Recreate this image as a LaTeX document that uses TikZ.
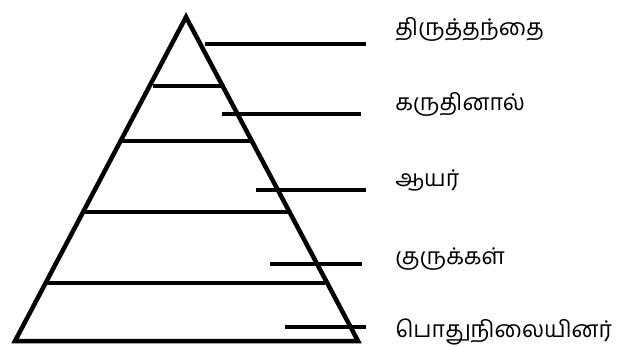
\documentclass[tikz,border=0pt]{standalone}
\usepackage{fontspec}
\newfontfamily\tamilfont[Script=Tamil]{Hind Madurai}
\usetikzlibrary{positioning}

\begin{document}
\begin{tikzpicture}[x=1pt, y=-1pt, line width=4.5pt,
    rank/.style={anchor=base west, inner sep=0pt, font=\tamilfont\fontsize{23}{27}\selectfont}]
  \useasboundingbox (0,0) rectangle (617,346);
  % pyramid
  \coordinate (apex) at (186,17);
  \coordinate (bl) at (15,341);
  \coordinate (br) at (358,341);
  \draw (apex) -- (bl) -- (br) -- cycle;
  % tiers
  \draw (153,86) -- (222,86);
  \draw (121,141) -- (250,141);
  \draw (85,212) -- (289,212);
  \draw (47,283) -- (325,283);
  % labels
  \node[rank] (pope) at (393,35) {திருத்தந்தை};
  \node[rank] (cardinal) at (393,110) {கருதினால்};
  \node[rank] (bishop) at (393,186) {ஆயர்};
  \node[rank] (priest) at (393,264) {குருக்கள்};
  \node[rank] (laity) at (393,337) {பொதுநிலையினர்};
  % pointers
  \coordinate (popeA) at (205,44);      \coordinate (popeB) at (366,44);
  \coordinate (cardinalA) at (222,114); \coordinate (cardinalB) at (361,114);
  \coordinate (bishopA) at (256,190);   \coordinate (bishopB) at (366,190);
  \coordinate (priestA) at (270,264);   \coordinate (priestB) at (362,264);
  \coordinate (laityA) at (285,327);    \coordinate (laityB) at (366,327);
  \draw (popeA) -- (popeB);
  \draw (cardinalA) -- (cardinalB);
  \draw (bishopA) -- (bishopB);
  \draw (priestA) -- (priestB);
  \draw (laityA) -- (laityB);
\end{tikzpicture}
\end{document}
